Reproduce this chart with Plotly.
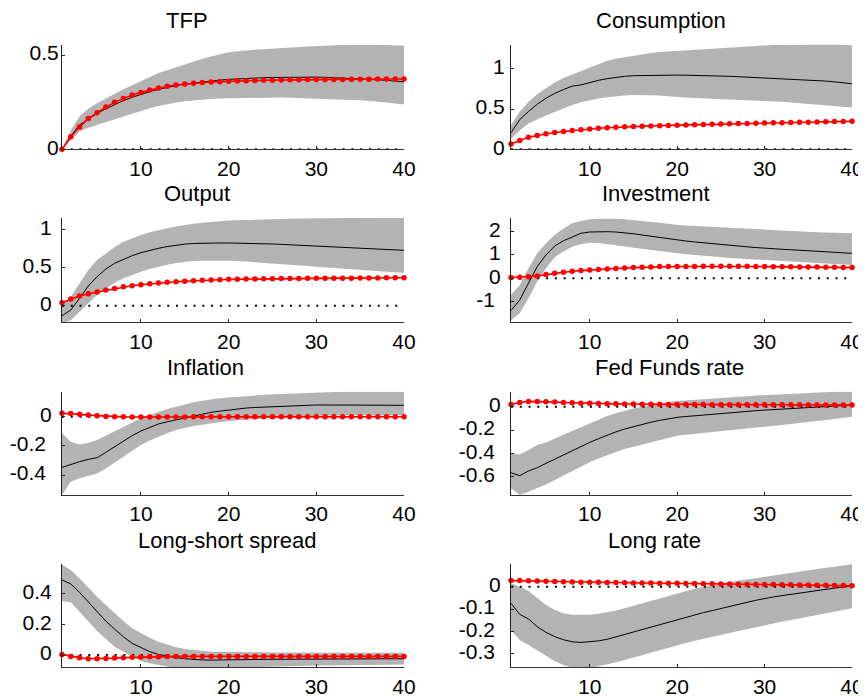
import plotly.graph_objects as go

horizons = list(range(1, 41))
titles = ["TFP", "Consumption", "Output", "Investment", "Inflation",
          "Fed Funds rate", "Long-short spread", "Long rate"]

# ---- TFP ----
tfp_median = [0.0, 0.07, 0.13, 0.16, 0.19, 0.215, 0.238, 0.258, 0.276, 0.292,
              0.306, 0.318, 0.329, 0.338, 0.346, 0.352, 0.358, 0.363, 0.367, 0.371,
              0.374, 0.376, 0.378, 0.380, 0.381, 0.382, 0.383, 0.383, 0.383, 0.383,
              0.382, 0.380, 0.379, 0.377, 0.375, 0.372, 0.369, 0.366, 0.362, 0.358]
tfp_upper = [0.0, 0.10, 0.175, 0.215, 0.245, 0.27, 0.295, 0.318, 0.34, 0.362,
             0.385, 0.405, 0.42, 0.435, 0.452, 0.467, 0.48, 0.492, 0.505, 0.515,
             0.52, 0.525, 0.528, 0.531, 0.535, 0.538, 0.541, 0.543, 0.546, 0.548,
             0.551, 0.553, 0.555, 0.556, 0.557, 0.556, 0.554, 0.553, 0.552, 0.550]
tfp_lower = [0.0, 0.05, 0.095, 0.115, 0.13, 0.145, 0.16, 0.175, 0.19, 0.205,
             0.218, 0.23, 0.24, 0.248, 0.255, 0.26, 0.264, 0.267, 0.27, 0.271,
             0.273, 0.274, 0.275, 0.276, 0.276, 0.275, 0.273, 0.271, 0.268, 0.266,
             0.264, 0.263, 0.262, 0.261, 0.26, 0.257, 0.253, 0.248, 0.243, 0.238]
tfp_model = [0.0, 0.067, 0.118, 0.163, 0.194, 0.224, 0.249, 0.269, 0.288, 0.302,
             0.314, 0.325, 0.334, 0.341, 0.346, 0.350, 0.354, 0.357, 0.359, 0.361,
             0.363, 0.364, 0.365, 0.366, 0.367, 0.368, 0.369, 0.369, 0.370, 0.370,
             0.371, 0.371, 0.371, 0.372, 0.372, 0.372, 0.373, 0.373, 0.373, 0.373]

# ---- Consumption ----
cons_median = [0.206, 0.37, 0.47, 0.56, 0.635, 0.695, 0.742, 0.785, 0.80, 0.83,
               0.857, 0.878, 0.895, 0.907, 0.915, 0.918, 0.921, 0.923, 0.923, 0.922,
               0.921, 0.92, 0.918, 0.915, 0.911, 0.907, 0.902, 0.897, 0.892, 0.887,
               0.883, 0.879, 0.875, 0.871, 0.866, 0.858, 0.848, 0.838, 0.828, 0.815]
cons_upper = [0.30, 0.466, 0.59, 0.685, 0.76, 0.83, 0.885, 0.93, 0.975, 1.01,
              1.06, 1.10, 1.125, 1.145, 1.16, 1.18, 1.198, 1.208, 1.215, 1.22,
              1.228, 1.237, 1.246, 1.255, 1.263, 1.27, 1.276, 1.282, 1.288, 1.292,
              1.296, 1.30, 1.303, 1.306, 1.309, 1.312, 1.313, 1.313, 1.305, 1.294]
cons_lower = [0.13, 0.235, 0.32, 0.375, 0.42, 0.465, 0.51, 0.55, 0.585, 0.61,
              0.63, 0.647, 0.66, 0.67, 0.676, 0.676, 0.672, 0.668, 0.658, 0.648,
              0.643, 0.638, 0.634, 0.63, 0.626, 0.622, 0.618, 0.614, 0.609, 0.605,
              0.598, 0.59, 0.581, 0.572, 0.563, 0.553, 0.544, 0.535, 0.527, 0.52]
cons_model = [0.067, 0.11, 0.15, 0.172, 0.193, 0.208, 0.222, 0.234, 0.244, 0.253,
              0.261, 0.268, 0.274, 0.279, 0.284, 0.288, 0.291, 0.294, 0.297, 0.30,
              0.303, 0.306, 0.309, 0.312, 0.315, 0.317, 0.32, 0.322, 0.325, 0.327,
              0.329, 0.331, 0.333, 0.335, 0.337, 0.339, 0.341, 0.344, 0.346, 0.349]

# ---- Output ----
out_median = [-0.131, -0.057, 0.096, 0.258, 0.38, 0.48, 0.555, 0.607, 0.655, 0.694,
              0.725, 0.751, 0.775, 0.793, 0.806, 0.815, 0.82, 0.821, 0.821, 0.821,
              0.82, 0.818, 0.815, 0.812, 0.808, 0.803, 0.797, 0.79, 0.784, 0.778,
              0.772, 0.766, 0.761, 0.756, 0.751, 0.746, 0.741, 0.736, 0.73, 0.725]
out_upper = [0.01, 0.118, 0.29, 0.467, 0.598, 0.69, 0.77, 0.838, 0.885, 0.925,
             0.96, 0.99, 1.015, 1.037, 1.057, 1.072, 1.085, 1.096, 1.106, 1.114,
             1.119, 1.124, 1.128, 1.132, 1.135, 1.137, 1.139, 1.141, 1.143, 1.144,
             1.146, 1.147, 1.148, 1.149, 1.15, 1.15, 1.15, 1.15, 1.15, 1.15]
out_lower = [-0.235, -0.19, -0.08, 0.03, 0.14, 0.227, 0.30, 0.358, 0.405, 0.445,
             0.48, 0.51, 0.536, 0.558, 0.576, 0.585, 0.59, 0.592, 0.592, 0.59,
             0.585, 0.578, 0.571, 0.563, 0.555, 0.546, 0.537, 0.528, 0.519, 0.51,
             0.501, 0.492, 0.484, 0.475, 0.467, 0.46, 0.453, 0.446, 0.439, 0.432]
out_model = [0.04, 0.087, 0.127, 0.157, 0.179, 0.205, 0.227, 0.249, 0.262, 0.275,
             0.287, 0.297, 0.306, 0.314, 0.321, 0.328, 0.332, 0.336, 0.34, 0.345,
             0.347, 0.349, 0.351, 0.353, 0.354, 0.355, 0.356, 0.357, 0.358, 0.358,
             0.359, 0.36, 0.361, 0.361, 0.362, 0.363, 0.364, 0.365, 0.366, 0.367]

# ---- Investment ----
inv_median = [-1.386, -0.93, -0.21, 0.5, 1.0, 1.386, 1.61, 1.786, 1.93, 1.986,
              2.0, 2.0, 1.985, 1.957, 1.91, 1.857, 1.80, 1.757, 1.71, 1.643,
              1.60, 1.56, 1.52, 1.48, 1.443, 1.41, 1.38, 1.35, 1.318, 1.286,
              1.265, 1.245, 1.225, 1.205, 1.186, 1.163, 1.14, 1.117, 1.094, 1.07]
inv_upper = [-0.71, -0.29, 0.43, 1.07, 1.5, 1.857, 2.14, 2.357, 2.46, 2.53,
             2.56, 2.57, 2.56, 2.53, 2.50, 2.46, 2.42, 2.386, 2.34, 2.286,
             2.265, 2.245, 2.225, 2.205, 2.186, 2.163, 2.14, 2.117, 2.094, 2.07,
             2.053, 2.036, 2.02, 2.003, 1.986, 1.975, 1.964, 1.953, 1.942, 1.93]
inv_lower = [-1.79, -1.5, -0.857, -0.14, 0.43, 0.9, 1.15, 1.357, 1.46, 1.53,
             1.51, 1.47, 1.42, 1.36, 1.31, 1.26, 1.21, 1.16, 1.115, 1.07,
             1.036, 1.002, 0.968, 0.934, 0.90, 0.877, 0.854, 0.831, 0.808, 0.786,
             0.766, 0.746, 0.726, 0.706, 0.686, 0.663, 0.64, 0.617, 0.594, 0.57]
inv_model = [0.03, 0.043, 0.07, 0.10, 0.157, 0.214, 0.257, 0.30, 0.33, 0.357,
             0.38, 0.40, 0.422, 0.443, 0.457, 0.47, 0.485, 0.50, 0.50, 0.503,
             0.506, 0.509, 0.511, 0.513, 0.514, 0.514, 0.513, 0.511, 0.506, 0.50,
             0.498, 0.495, 0.492, 0.489, 0.486, 0.481, 0.475, 0.469, 0.463, 0.457]

# ---- Inflation ----
infl_median = [-0.347, -0.326, -0.308, -0.292, -0.281, -0.244, -0.205, -0.167, -0.13, -0.098,
               -0.073, -0.05, -0.035, -0.021, -0.007, 0.007, 0.019, 0.03, 0.038, 0.046,
               0.053, 0.059, 0.063, 0.066, 0.068, 0.071, 0.073, 0.076, 0.078, 0.08,
               0.08, 0.08, 0.08, 0.08, 0.08, 0.08, 0.079, 0.079, 0.078, 0.078]
infl_upper = [-0.114, -0.171, -0.19, -0.178, -0.16, -0.13, -0.099, -0.068, -0.04, -0.011,
              0.012, 0.034, 0.052, 0.068, 0.084, 0.098, 0.109, 0.119, 0.126, 0.132,
              0.137, 0.141, 0.145, 0.149, 0.153, 0.156, 0.159, 0.162, 0.165, 0.167,
              0.168, 0.169, 0.17, 0.171, 0.171, 0.171, 0.171, 0.171, 0.171, 0.171]
infl_lower = [-0.536, -0.445, -0.422, -0.404, -0.388, -0.354, -0.314, -0.274, -0.234, -0.194,
              -0.163, -0.137, -0.113, -0.091, -0.076, -0.064, -0.055, -0.046, -0.038, -0.03,
              -0.025, -0.02, -0.015, -0.011, -0.007, -0.004, -0.001, 0.002, 0.005, 0.007,
              0.008, 0.009, 0.01, 0.011, 0.011, 0.011, 0.011, 0.011, 0.011, 0.011]
infl_model = [0.023, 0.021, 0.016, 0.011, 0.007, 0.002, 0.0, -0.001, -0.002, -0.002,
              -0.002, -0.002, -0.002, -0.002, -0.002, -0.001, -0.001, -0.001, -0.001, -0.001,
              -0.001, -0.001, -0.001, -0.001, -0.001, -0.001, -0.001, -0.001, -0.001, -0.001,
              -0.001, -0.001, -0.001, 0.0, 0.0, 0.0, 0.0, 0.0, 0.0, 0.0]

# ---- Fed Funds rate ----
ffr_median = [-0.566, -0.591, -0.551, -0.523, -0.486, -0.449, -0.414, -0.38, -0.342, -0.306,
              -0.274, -0.243, -0.216, -0.191, -0.17, -0.151, -0.133, -0.117, -0.103, -0.091,
              -0.084, -0.077, -0.07, -0.063, -0.057, -0.051, -0.045, -0.04, -0.034, -0.029,
              -0.024, -0.02, -0.015, -0.011, -0.006, -0.002, 0.002, 0.006, 0.01, 0.014]
ffr_upper = [-0.40, -0.409, -0.371, -0.329, -0.306, -0.271, -0.24, -0.209, -0.176, -0.143,
             -0.111, -0.08, -0.056, -0.034, -0.016, 0.0, 0.015, 0.029, 0.04, 0.049,
             0.055, 0.061, 0.067, 0.072, 0.077, 0.082, 0.087, 0.091, 0.096, 0.10,
             0.104, 0.108, 0.112, 0.116, 0.12, 0.123, 0.126, 0.128, 0.129, 0.13]
ffr_lower = [-0.70, -0.757, -0.729, -0.70, -0.666, -0.629, -0.59, -0.551, -0.514, -0.477,
             -0.445, -0.414, -0.388, -0.363, -0.343, -0.323, -0.304, -0.286, -0.267, -0.249,
             -0.24, -0.232, -0.223, -0.214, -0.206, -0.199, -0.192, -0.185, -0.178, -0.171,
             -0.164, -0.157, -0.149, -0.142, -0.134, -0.125, -0.115, -0.105, -0.095, -0.086]
ffr_model = [0.02, 0.037, 0.046, 0.046, 0.043, 0.04, 0.037, 0.034, 0.031, 0.029,
             0.027, 0.026, 0.025, 0.024, 0.023, 0.022, 0.021, 0.021, 0.02, 0.02,
             0.019, 0.019, 0.019, 0.018, 0.018, 0.018, 0.018, 0.017, 0.017, 0.017,
             0.017, 0.016, 0.016, 0.016, 0.015, 0.015, 0.015, 0.015, 0.014, 0.014]

# ---- Long-short spread ----
lss_median = [0.489, 0.463, 0.408, 0.347, 0.282, 0.221, 0.169, 0.119, 0.076, 0.048,
              0.022, 0.004, -0.009, -0.017, -0.024, -0.03, -0.032, -0.033, -0.033, -0.03,
              -0.03, -0.029, -0.029, -0.028, -0.028, -0.027, -0.027, -0.027, -0.026, -0.026,
              -0.025, -0.025, -0.025, -0.025, -0.025, -0.024, -0.024, -0.024, -0.024, -0.024]
lss_upper = [0.59, 0.554, 0.50, 0.439, 0.38, 0.326, 0.271, 0.221, 0.174, 0.141,
             0.112, 0.087, 0.067, 0.05, 0.04, 0.033, 0.027, 0.022, 0.022, 0.022,
             0.021, 0.02, 0.019, 0.018, 0.017, 0.017, 0.016, 0.016, 0.016, 0.015,
             0.015, 0.015, 0.015, 0.015, 0.015, 0.015, 0.015, 0.015, 0.015, 0.015]
lss_lower = [0.352, 0.343, 0.282, 0.217, 0.156, 0.104, 0.054, 0.022, -0.011, -0.039,
             -0.053, -0.065, -0.075, -0.083, -0.086, -0.087, -0.087, -0.086, -0.085, -0.083,
             -0.082, -0.081, -0.079, -0.078, -0.076, -0.075, -0.073, -0.072, -0.07, -0.069,
             -0.068, -0.067, -0.066, -0.066, -0.065, -0.064, -0.063, -0.062, -0.062, -0.061]
lss_model = [0.004, -0.009, -0.017, -0.024, -0.024, -0.022, -0.02, -0.017, -0.015, -0.013,
             -0.012, -0.011, -0.01, -0.009, -0.009, -0.009, -0.009, -0.009, -0.009, -0.009,
             -0.009, -0.009, -0.009, -0.009, -0.009, -0.009, -0.009, -0.009, -0.009, -0.009,
             -0.009, -0.009, -0.009, -0.009, -0.009, -0.009, -0.009, -0.009, -0.009, -0.009]

# ---- Long rate ----
lr_median = [-0.074, -0.124, -0.144, -0.179, -0.204, -0.223, -0.237, -0.246, -0.249, -0.247,
             -0.242, -0.235, -0.224, -0.213, -0.203, -0.193, -0.182, -0.171, -0.158, -0.146,
             -0.136, -0.126, -0.116, -0.107, -0.097, -0.088, -0.079, -0.07, -0.061, -0.052,
             -0.046, -0.04, -0.034, -0.028, -0.022, -0.017, -0.011, -0.006, -0.001, 0.004]
lr_upper = [0.015, 0.0, -0.019, -0.052, -0.082, -0.104, -0.119, -0.126, -0.127, -0.126,
            -0.121, -0.115, -0.106, -0.097, -0.086, -0.074, -0.063, -0.052, -0.041, -0.03,
            -0.02, -0.01, -0.002, 0.007, 0.015, 0.021, 0.027, 0.033, 0.039, 0.045,
            0.051, 0.057, 0.063, 0.068, 0.074, 0.079, 0.084, 0.089, 0.095, 0.10]
lr_lower = [-0.193, -0.238, -0.26, -0.283, -0.308, -0.332, -0.35, -0.362, -0.365, -0.362,
            -0.355, -0.347, -0.337, -0.327, -0.316, -0.305, -0.294, -0.283, -0.271, -0.26,
            -0.251, -0.242, -0.234, -0.225, -0.216, -0.207, -0.198, -0.189, -0.18, -0.171,
            -0.164, -0.156, -0.149, -0.141, -0.134, -0.127, -0.119, -0.112, -0.104, -0.097]
lr_model = [0.027, 0.027, 0.026, 0.025, 0.024, 0.023, 0.022, 0.021, 0.02, 0.019,
            0.019, 0.018, 0.018, 0.017, 0.016, 0.016, 0.016, 0.015, 0.015, 0.015,
            0.014, 0.014, 0.013, 0.013, 0.012, 0.012, 0.011, 0.010, 0.010, 0.009,
            0.009, 0.008, 0.008, 0.007, 0.007, 0.006, 0.006, 0.005, 0.005, 0.004]

zero_line = [0.0] * 40

x_ticks = [10, 20, 30, 40]
x_ticktext = ["10", "20", "30", "40"]

y_ranges = [[0, 0.555], [0, 1.3], [-0.217, 1.152], [-1.89, 2.6],
            [-0.536, 0.171], [-0.757, 0.129], [-0.08, 0.593], [-0.36, 0.101]]
y_tickvals = [[0, 0.5], [0, 0.5, 1], [0, 0.5, 1], [-1, 0, 1, 2],
              [-0.4, -0.2, 0], [-0.6, -0.4, -0.2, 0], [0, 0.2, 0.4], [-0.3, -0.2, -0.1, 0]]
y_ticktext = [["0", "0.5"], ["0", "0.5", "1"], ["0", "0.5", "1"], ["-1", "0", "1", "2"],
              ["-0.4", "-0.2", "0"], ["-0.6", "-0.4", "-0.2", "0"], ["0", "0.2", "0.4"],
              ["-0.3", "-0.2", "-0.1", "0"]]

panels = [
    (tfp_median, tfp_lower, tfp_upper, tfp_model),
    (cons_median, cons_lower, cons_upper, cons_model),
    (out_median, out_lower, out_upper, out_model),
    (inv_median, inv_lower, inv_upper, inv_model),
    (infl_median, infl_lower, infl_upper, infl_model),
    (ffr_median, ffr_lower, ffr_upper, ffr_model),
    (lss_median, lss_lower, lss_upper, lss_model),
    (lr_median, lr_lower, lr_upper, lr_model),
]

# The page body has an 8 px margin, so the figure is made 8 px smaller and every
# target window position is shifted by that offset.
OFF = 8
WIN_W, WIN_H = 866, 696
W, H = WIN_W - OFF, WIN_H - OFF
col_px = [(62, 404), (511, 852)]
row_px = [(44.7, 149.3), (217.7, 322.3), (391.7, 495.0), (564.0, 667.3)]
title_px = [(187, 20.5), (660.7, 20.5), (196.7, 193.5), (655.7, 193.5),
            (205.5, 367), (669.5, 367), (227.2, 540.5), (654.7, 540.5)]
y_standoff = [-2, 1, 5, 5, 5, 5, 5, 5]


def fx(px):
    return (px - OFF) / W


def fy(py):
    return 1 - (py - OFF) / H


FONT = "Liberation Sans, Arial, sans-serif"
fig = go.Figure()
layout = dict(width=W, height=H, margin=dict(l=0, r=0, t=0, b=0, pad=0, autoexpand=False),
              paper_bgcolor="white", plot_bgcolor="white", showlegend=False,
              font=dict(family=FONT, size=21, color="black"))
annotations = []


def pad_label(t):
    # negative labels sit a little further from the axis, as in the source figure
    return t + "\u00a0" if t.startswith("-") else t


for i, (med, lo, up, mod) in enumerate(panels):
    r, c = divmod(i, 2)
    xa = "x" if i == 0 else f"x{i+1}"
    ya = "y" if i == 0 else f"y{i+1}"
    fig.add_trace(go.Scatter(x=horizons, y=lo, xaxis=xa, yaxis=ya, mode="lines",
                             line=dict(width=0, color="rgb(179,179,179)"), hoverinfo="skip"))
    fig.add_trace(go.Scatter(x=horizons, y=up, xaxis=xa, yaxis=ya, mode="lines",
                             line=dict(width=0, color="rgb(179,179,179)"),
                             fill="tonexty", fillcolor="rgb(179,179,179)", hoverinfo="skip"))
    fig.add_trace(go.Scatter(x=horizons, y=zero_line, xaxis=xa, yaxis=ya, mode="lines",
                             line=dict(color="black", width=2, dash="2px,6.77px"),
                             hoverinfo="skip"))
    fig.add_trace(go.Scatter(x=horizons, y=med, xaxis=xa, yaxis=ya, mode="lines",
                             line=dict(color="black", width=1)))
    fig.add_trace(go.Scatter(x=horizons, y=mod, xaxis=xa, yaxis=ya, mode="lines+markers",
                             line=dict(color="rgb(255,0,0)", width=1.6),
                             marker=dict(color="rgb(255,0,0)", size=5.5, symbol="circle"),
                             cliponaxis=False))
    x0, x1 = col_px[c]
    y0, y1 = row_px[r]
    key_x = "xaxis" if i == 0 else f"xaxis{i+1}"
    key_y = "yaxis" if i == 0 else f"yaxis{i+1}"
    layout[key_x] = dict(domain=[fx(x0), fx(x1)], range=[1, 40], anchor=ya,
                         tickvals=x_ticks, ticktext=x_ticktext, ticks="inside", ticklen=3,
                         tickcolor="#222", showline=True, linecolor="#333", linewidth=1,
                         showgrid=False, zeroline=False, ticklabelstandoff=0,
                         automargin=False,
                         tickfont=dict(family=FONT, size=21, color="black"))
    layout[key_y] = dict(domain=[fy(y1), fy(y0)], range=y_ranges[i], anchor=xa,
                         tickvals=y_tickvals[i], ticktext=[pad_label(t) for t in y_ticktext[i]],
                         ticks="inside", ticklen=3, tickcolor="#222", showline=True,
                         linecolor="#222", linewidth=1, showgrid=False, zeroline=False,
                         ticklabelstandoff=y_standoff[i], ticklabelshift=-2,
                         automargin=False,
                         tickfont=dict(family=FONT, size=21, color="black"))
    tx, ty = title_px[i]
    annotations.append(dict(text=titles[i], x=fx(tx), y=fy(ty), xref="paper", yref="paper",
                            xanchor="center", yanchor="middle", showarrow=False,
                            font=dict(family=FONT, size=22, color="black")))

layout["annotations"] = annotations
fig.update_layout(**layout)
fig.write_html("out.html")
